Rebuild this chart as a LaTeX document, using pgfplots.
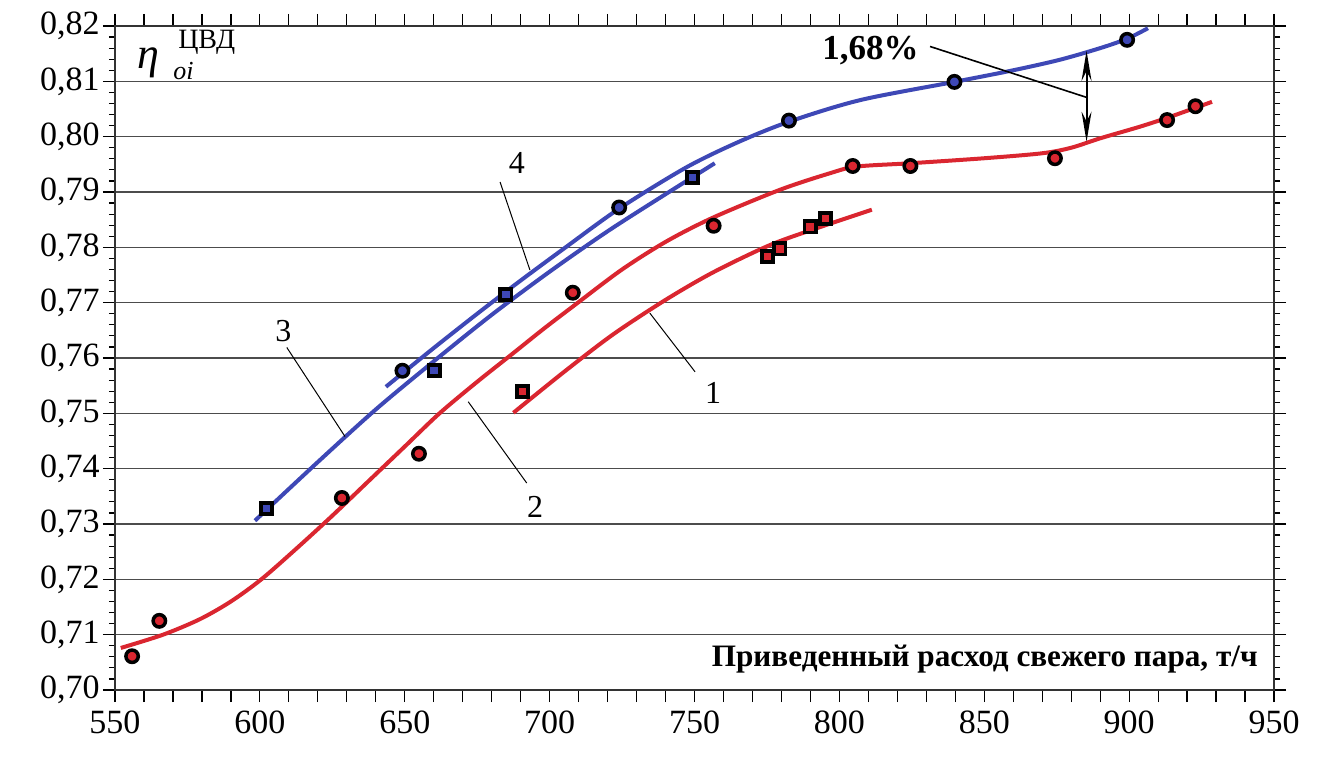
\documentclass[border=0pt]{standalone}
\usepackage{fontspec}
\setmainfont{Liberation Serif}
\usepackage{pgfplots}
\pgfplotsset{compat=1.18}
\usetikzlibrary{arrows.meta}
\definecolor{cred}{RGB}{218,38,48}
\definecolor{cblue}{RGB}{62,72,182}
\begin{document}
\begin{tikzpicture}
\begin{axis}[
  at={(0,0)}, anchor=south west,
  scale only axis, width=579.5pt, height=332pt,
  xmin=550, xmax=950, ymin=0.70, ymax=0.82,
  xtick={550,560,...,950},
  xticklabels={550,,,,,600,,,,,650,,,,,700,,,,,750,,,,,800,,,,,850,,,,,900,,,,,950},
  ytick={0.70,0.71,0.72,0.73,0.74,0.75,0.76,0.77,0.78,0.79,0.80,0.81,0.82},
  yticklabels={{0,70},{0,71},{0,72},{0,73},{0,74},{0,75},{0,76},{0,77},{0,78},{0,79},{0,80},{0,81},{0,82}},
  minor y tick num=4,
  ymajorgrids,
  major grid style={black!70, line width=0.7pt},
  tick align=outside,
  major tick length=6pt, minor tick length=3pt,
  tick style={black, line width=0.6pt},
  axis line style={black!80, line width=0.8pt},
  x tick label style={font=\fontsize{17}{17}\selectfont, inner sep=0pt, yshift=-4pt},
  y tick label style={font=\fontsize{17}{17}\selectfont, inner sep=0pt, xshift=-1.5pt},
  clip=false,
]
% curve 2 (red, circles)
\addplot[cred, line width=2pt, smooth] coordinates {
(552,0.7076) (566.6,0.7100) (579.3,0.7128) (590,0.7160) (600.5,0.7200)
(612.7,0.7256) (625,0.7315) (637,0.7375) (650,0.7440) (662,0.7500)
(675,0.7557) (687.5,0.7609) (698,0.7653) (709,0.7697)
(725,0.7760) (740.4,0.7811) (756.5,0.7854) (779.5,0.7904) (796.8,0.7934)
(806,0.7946) (824.6,0.7952) (850,0.7961) (870,0.7970) (880,0.7980)
(890,0.7997) (903.7,0.8018) (913.1,0.8034) (922.8,0.8052) (928.6,0.8063)};
% curve 1 (red, squares)
\addplot[cred, line width=2pt, smooth] coordinates {
(687.5,0.7501) (705,0.7575) (722,0.7643) (740,0.7705) (756.5,0.7755)
(776,0.7804) (793,0.7836) (811.2,0.7868)};
% curve 3 (blue, squares)
\addplot[cblue, line width=2pt, smooth] coordinates {
(598.3,0.7306) (620,0.7412) (640,0.7507) (660,0.7594) (680,0.7678)
(700,0.7756) (720,0.7829) (740,0.7896) (757,0.7952)};
% curve 4 (blue, circles)
\addplot[cblue, line width=2pt, smooth] coordinates {
(643.5,0.7548) (660,0.7618) (676,0.7684) (690,0.7740) (705,0.7798)
(724,0.7870) (747,0.7944) (765,0.7990) (782.6,0.8027) (807.1,0.8066)
(839.7,0.8099) (860,0.8120) (876.1,0.8139) (890,0.8160) (899.3,0.8177)
(906.5,0.8196)};
% markers
\addplot[only marks, mark=*, mark size=3.1pt, mark options={draw=black, line width=1.75pt, fill=cred}] coordinates {
(555.9,0.7061) (565.3,0.7125) (628.3,0.7347) (654.9,0.7427) (708,0.7718)
(756.6,0.7839) (804.6,0.7947) (824.5,0.7947) (874.4,0.7961) (913.1,0.8030) (922.9,0.8055)};
\addplot[only marks, mark=square*, mark size=2.8pt, mark options={draw=black, line width=1.9pt, fill=cred}] coordinates {
(690.7,0.7539) (775.1,0.7783) (779.5,0.7797) (789.9,0.7837) (795.3,0.7852)};
\addplot[only marks, mark=square*, mark size=2.8pt, mark options={draw=black, line width=1.9pt, fill=cblue}] coordinates {
(602.3,0.7328) (660.1,0.7577) (684.9,0.7715) (749.4,0.7926)};
\addplot[only marks, mark=*, mark size=3.1pt, mark options={draw=black, line width=1.75pt, fill=cblue}] coordinates {
(649.2,0.7577) (724,0.7872) (782.6,0.8029) (839.7,0.8099) (899.3,0.8175)};
% annotations
\node[anchor=base west, inner sep=0pt, font=\fontsize{22}{22}\selectfont\itshape] at (557.6,0.8124) {η};
\node[anchor=base west, inner sep=0pt, font=\fontsize{13}{13}\selectfont\itshape] at (570,0.8104) {oi};
\node[anchor=base west, inner sep=0pt, font=\fontsize{14}{14}\selectfont] at (571.7,0.8160) {ЦВД};
\node[anchor=base east, inner sep=0pt, font=\fontsize{15.6}{15.6}\selectfont\bfseries] at (944.5,0.70416) {Приведенный расход свежего пара, т/ч};
\node[anchor=base west, inner sep=0pt, font=\fontsize{17.5}{17.5}\selectfont\bfseries] at (794,0.8139) {1,68\%};
\draw[line width=0.8pt] (831.3,0.8163) -- (885.3,0.8071);
\draw[{Stealth[length=15pt,width=5pt]}-{Stealth[length=15pt,width=5pt]}, line width=1pt] (885.3,0.8155) -- (885.3,0.7991);
\draw[line width=0.5pt] (734.6,0.7681) -- (750.2,0.7575);
\node[font=\fontsize{16}{16}\selectfont] at (756.4,0.7537) {1};
\draw[line width=0.5pt] (671.9,0.7521) -- (692.1,0.7374);
\node[font=\fontsize{16}{16}\selectfont] at (695,0.7331) {2};
\draw[line width=0.5pt] (609.3,0.7619) -- (629.4,0.7458);
\node[font=\fontsize{16}{16}\selectfont] at (608.1,0.7648) {3};
\draw[line width=0.5pt] (682.9,0.7918) -- (693.2,0.7759);
\node[font=\fontsize{16}{16}\selectfont] at (688.7,0.7952) {4};
\end{axis}
\path (-57.5pt,-33.5pt) rectangle (606.5pt,345pt);
\end{tikzpicture}
\end{document}
